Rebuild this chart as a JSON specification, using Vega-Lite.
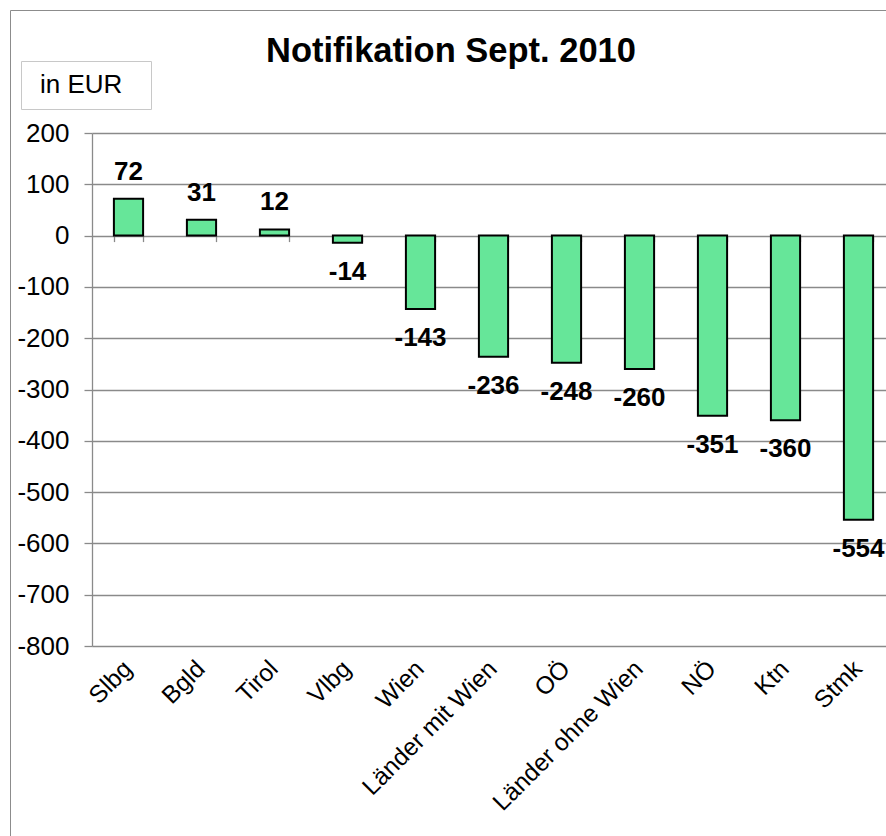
{
  "$schema": "https://vega.github.io/schema/vega-lite/v6.json",
  "autosize": {"type": "none"},
  "width": 794,
  "height": 513,
  "padding": {"left": 92, "top": 133, "right": 0, "bottom": 190},
  "background": "white",
  "config": {
    "font": "Liberation Sans",
    "view": {"stroke": null}
  },
  "title": {
    "text": "Notifikation Sept. 2010",
    "fontSize": 34.5,
    "fontWeight": "bold",
    "color": "black",
    "anchor": "middle",
    "dx": -38,
    "offset": -60
  },
  "data": {
    "values": [
      {"Land": "Slbg", "Wert": 72},
      {"Land": "Bgld", "Wert": 31},
      {"Land": "Tirol", "Wert": 12},
      {"Land": "Vlbg", "Wert": -14},
      {"Land": "Wien", "Wert": -143},
      {"Land": "Länder mit Wien", "Wert": -236},
      {"Land": "OÖ", "Wert": -248},
      {"Land": "Länder ohne Wien", "Wert": -260},
      {"Land": "NÖ", "Wert": -351},
      {"Land": "Ktn", "Wert": -360},
      {"Land": "Stmk", "Wert": -554}
    ]
  },
  "encoding": {
    "x": {
      "field": "Land",
      "type": "nominal",
      "sort": null,
      "scale": {"range": [0, 803], "paddingInner": 0.6, "paddingOuter": 0.3}
    },
    "y": {
      "field": "Wert",
      "type": "quantitative",
      "scale": {"domain": [-800, 200], "nice": false, "zero": false},
      "axis": {
        "title": null,
        "values": [-800, -700, -600, -500, -400, -300, -200, -100, 0, 100, 200],
        "labelExpr": "replace(datum.label, '−', '-')",
        "grid": true,
        "gridColor": "#8a8a8a",
        "gridWidth": 1.3,
        "domain": true,
        "domainColor": "#8a8a8a",
        "domainWidth": 1.3,
        "ticks": true,
        "tickSize": 8,
        "tickColor": "#8a8a8a",
        "tickWidth": 1.3,
        "labelFontSize": 26,
        "labelColor": "black",
        "labelPadding": 15
      }
    }
  },
  "layer": [
    {
      "mark": {"type": "bar", "stroke": "black", "strokeWidth": 2},
      "encoding": {
        "x": {
          "field": "Land",
          "type": "nominal",
          "sort": null,
          "axis": {
            "title": null,
            "orient": "bottom",
            "labelAngle": -45,
            "labelAlign": "right",
            "labelBaseline": "middle",
            "labelFontSize": 24.5,
            "labelColor": "black",
            "labelPadding": 19,
            "labelLimit": 0,
            "ticks": false,
            "domain": false
          }
        },
        "color": {
          "datum": "in EUR",
          "scale": {"range": ["#66e699"]},
          "legend": {
            "orient": "none",
            "legendX": -71,
            "legendY": -72,
            "title": null,
            "strokeColor": "#c8c8c8",
            "padding": 11,
            "symbolSize": 1,
            "symbolOpacity": 0,
            "symbolStrokeWidth": 0,
            "labelOffset": -18,
            "labelExpr": "datum.label + '\u2002\u2006\u200b'",
            "labelFontSize": 26,
            "labelColor": "black"
          }
        },
        "strokeDash": {
          "datum": "Rahmen",
          "scale": {"range": [[1, 0]]},
          "legend": {
            "orient": "none",
            "legendX": -82,
            "legendY": -123,
            "title": null,
            "strokeColor": "#8c8c8c",
            "padding": 450,
            "symbolOpacity": 0,
            "symbolStrokeWidth": 0,
            "labelExpr": "''"
          }
        }
      }
    },
    {
      "transform": [{"filter": "datum.Wert > 0"}],
      "mark": {"type": "text", "baseline": "bottom", "dy": -14, "fontSize": 26, "fontWeight": "bold", "color": "black"},
      "encoding": {
        "x": {
          "field": "Land",
          "type": "nominal",
          "sort": null,
          "axis": {
            "title": null,
            "orient": "bottom",
            "offset": -410.4,
            "labels": false,
            "domain": false,
            "ticks": true,
            "tickBand": "extent",
            "tickSize": 6,
            "tickColor": "#8a8a8a",
            "tickWidth": 1.3
          }
        },
        "text": {"field": "Wert", "type": "nominal"}
      }
    },
    {
      "transform": [{"filter": "datum.Wert < 0"}],
      "mark": {"type": "text", "baseline": "top", "dy": 16, "fontSize": 26, "fontWeight": "bold", "color": "black"},
      "encoding": {
        "x": {"field": "Land", "type": "nominal", "sort": null, "axis": null},
        "text": {"field": "Wert", "type": "nominal"}
      }
    }
  ],
  "resolve": {"axis": {"x": "independent"}}
}
